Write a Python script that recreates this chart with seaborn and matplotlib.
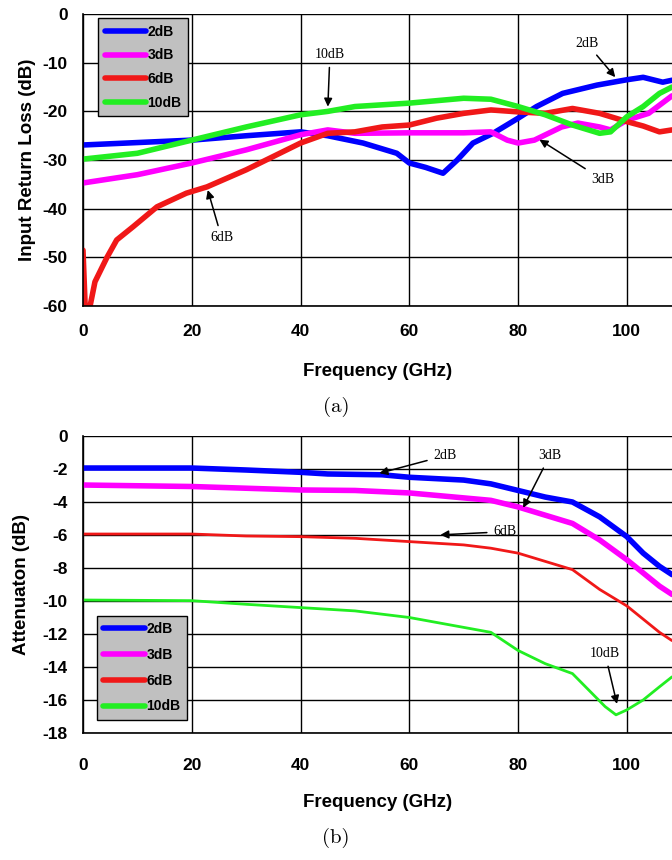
import numpy as np
import pandas as pd
import matplotlib.pyplot as plt
import seaborn as sns

# ---- panel (a): input return loss -------------------------------------
a_freq_2db = [0, 10, 20, 30, 40, 45, 51.5, 57.7, 60, 63, 66.2, 68.8, 71.7, 75.4, 80, 83.4, 88.2, 94.5, 100, 103, 106.6, 108.3]
a_loss_2db = [-26.9, -26.4, -25.9, -25.0, -24.2, -25.0, -26.5, -28.6, -30.6, -31.5, -32.7, -30.0, -26.5, -24.5, -21.4, -19.0, -16.3, -14.6, -13.5, -13.0, -14.0, -13.6]
a_freq_3db = [0, 10, 20, 30, 40, 45, 50, 60, 70, 75, 78, 80, 83, 88, 91, 95, 97, 100, 104, 108.3]
a_loss_3db = [-34.7, -33.0, -30.6, -27.9, -24.8, -23.8, -24.5, -24.4, -24.4, -24.2, -25.9, -26.5, -25.9, -23.2, -22.4, -23.2, -23.8, -21.8, -20.4, -16.8]
a_freq_6db = [0, 0.4, 1.3, 2.2, 4.4, 6.2, 9.2, 13.6, 19, 22.8, 30, 40, 45, 50, 55, 60, 65, 70, 75, 80, 85, 90, 95, 100, 103, 106, 108.3]
a_loss_6db = [-48.5, -60, -60, -55, -50, -46.4, -43.7, -39.6, -36.8, -35.5, -32.0, -26.5, -24.5, -24.2, -23.2, -22.8, -21.4, -20.4, -19.7, -20.1, -20.4, -19.4, -20.4, -22.1, -23.0, -24.2, -23.8]
a_freq_10db = [0, 10, 20, 30, 40, 45, 50, 60, 70, 75, 80, 85, 90, 95, 97, 100, 103, 106, 108.3]
a_loss_10db = [-29.8, -28.6, -25.9, -23.2, -20.7, -20.0, -19.0, -18.3, -17.3, -17.5, -19.0, -20.7, -22.8, -24.5, -24.2, -21.1, -19.0, -16.3, -15.0]

# ---- panel (b): attenuation -------------------------------------------
b_freq_2db = [0, 20, 30, 40, 45, 55, 60, 70, 75, 80, 85, 90, 95, 100, 103, 106, 108.3]
b_att_2db = [-1.94, -1.94, -2.06, -2.2, -2.3, -2.35, -2.5, -2.67, -2.9, -3.3, -3.7, -4.0, -4.9, -6.1, -7.1, -7.9, -8.4]
b_freq_3db = [0, 20, 40, 50, 60, 70, 75, 80, 85, 90, 95, 100, 103, 106, 108.3]
b_att_3db = [-2.97, -3.06, -3.27, -3.3, -3.45, -3.75, -3.9, -4.3, -4.8, -5.3, -6.3, -7.5, -8.3, -9.1, -9.6]
b_freq_6db = [0, 20, 30, 40, 50, 60, 70, 75, 80, 85, 90, 95, 100, 103, 106, 108.3]
b_att_6db = [-5.94, -5.94, -6.06, -6.1, -6.2, -6.4, -6.6, -6.8, -7.1, -7.6, -8.1, -9.3, -10.3, -11.1, -11.9, -12.4]
b_freq_10db = [0, 20, 30, 40, 45, 50, 60, 70, 75, 80, 85, 90, 93, 96, 98, 100, 103, 106, 108.3]
b_att_10db = [-9.94, -9.98, -10.2, -10.4, -10.5, -10.6, -11.0, -11.6, -11.9, -13.0, -13.8, -14.4, -15.4, -16.4, -16.9, -16.6, -16.0, -15.2, -14.6]

labels = ["2dB", "3dB", "6dB", "10dB"]
colors = {"2dB": "#0000ff", "3dB": "#ff00ff", "6dB": "#f01818", "10dB": "#22ee22"}

sns.set_style("white")
plt.rcParams["font.family"] = ["Liberation Sans", "DejaVu Sans"]
plt.rcParams["font.weight"] = "bold"
plt.rcParams["axes.unicode_minus"] = False
plt.rcParams["text.color"] = "black"
plt.rcParams["axes.labelcolor"] = "black"

fig = plt.figure(figsize=(6.72, 8.6), dpi=100)
ax_a = fig.add_axes([0.1235, 0.644, 0.8765, 0.3397])
ax_b = fig.add_axes([0.1235, 0.1477, 0.8765, 0.3453])

series_a = [(a_freq_2db, a_loss_2db), (a_freq_3db, a_loss_3db),
            (a_freq_6db, a_loss_6db), (a_freq_10db, a_loss_10db)]
series_b = [(b_freq_2db, b_att_2db), (b_freq_3db, b_att_3db),
            (b_freq_6db, b_att_6db), (b_freq_10db, b_att_10db)]

for lab, (f, v) in zip(labels, series_a):
    sns.lineplot(x=f, y=v, ax=ax_a, color=colors[lab], lw=4, label=lab)
lw_b = {"2dB": 4, "3dB": 4, "6dB": 2, "10dB": 2}
for lab, (f, v) in zip(labels, series_b):
    sns.lineplot(x=f, y=v, ax=ax_b, color=colors[lab], lw=lw_b[lab], label=lab)


def style_axes(ax, ylim, yticks, ylabel, xpad, xlabpad, ylabpad, spacing):
    ax.set_xlim(0, 108.3)
    ax.set_ylim(*ylim)
    ax.set_xticks([0, 20, 40, 60, 80, 100])
    ax.set_yticks(yticks)
    ax.grid(True, color="black", lw=1.0)
    ax.set_axisbelow(True)
    for s in ["top", "right"]:
        ax.spines[s].set_visible(False)
    for s in ["left", "bottom"]:
        ax.spines[s].set_color("black")
        ax.spines[s].set_linewidth(1.2)
    ax.tick_params(axis="both", direction="out", length=4, width=1,
                   colors="black", labelsize=12.5)
    ax.tick_params(axis="x", pad=xpad)
    ax.tick_params(axis="y", pad=7)
    ax.set_xlabel("Frequency (GHz)", fontsize=13.5, fontweight="bold", labelpad=xlabpad)
    ax.set_ylabel(ylabel, fontsize=13.5, fontweight="bold", labelpad=ylabpad)
    leg = ax.legend(loc="upper left", frameon=True, fancybox=False,
                    prop={"weight": "bold", "size": 10}, handlelength=3.0,
                    handletextpad=0.1, borderpad=0.45, labelspacing=spacing,
                    borderaxespad=0, labelcolor="black")
    leg.get_frame().set_facecolor("#c0c0c0")
    leg.get_frame().set_edgecolor("black")
    leg.get_frame().set_alpha(1)
    return leg


leg_a = style_axes(ax_a, (-60, 0), [0, -10, -20, -30, -40, -50, -60],
                   "Input Return Loss (dB)", 9, 17, 5, 0.7)
leg_a.set_bbox_to_anchor((0.026, 0.985))
leg_b = style_axes(ax_b, (-18, 0), list(range(0, -19, -2)),
                   "Attenuaton (dB)", 14, 15, 9, 0.85)
leg_b.set_loc("lower left")
leg_b.set_bbox_to_anchor((0.024, 0.045))
for lh in leg_a.get_lines() + leg_b.get_lines():
    lh.set_linewidth(4)

arrow = dict(arrowstyle="-|>", color="black", lw=1.1, mutation_scale=12)
serif = dict(family=["Liberation Serif", "DejaVu Serif"], fontsize=10,
             fontweight="normal", ha="center", va="center")

ax_a.annotate("10dB", xy=(45, -19.6), xytext=(45.4, -8.4), arrowprops=arrow, **serif)
ax_a.annotate("2dB", xy=(98.2, -13.4), xytext=(92.6, -6.0), arrowprops=arrow, **serif)
ax_a.annotate("3dB", xy=(83.5, -25.5), xytext=(95.5, -34.0), arrowprops=arrow, **serif)
ax_a.annotate("6dB", xy=(22.8, -35.6), xytext=(25.5, -46.0), arrowprops=arrow, **serif)

ax_b.annotate("2dB", xy=(54, -2.3), xytext=(66.5, -1.2), arrowprops=arrow, **serif)
ax_b.annotate("3dB", xy=(80.7, -4.5), xytext=(85.8, -1.2), arrowprops=arrow, **serif)
ax_b.annotate("6dB", xy=(65.2, -6.0), xytext=(77.5, -5.8), arrowprops=arrow, **serif)
ax_b.annotate("10dB", xy=(98.3, -16.4), xytext=(96.0, -13.2), arrowprops=arrow, **serif)

fig.text(0.5, 1 - 407 / 860, "(a)", ha="center", va="center", fontsize=15,
         family="cmr10", fontweight="normal")
fig.text(0.5, 1 - 838 / 860, "(b)", ha="center", va="center", fontsize=15,
         family="cmr10", fontweight="normal")

fig.savefig("out.png", dpi=100)
plt.close(fig)
